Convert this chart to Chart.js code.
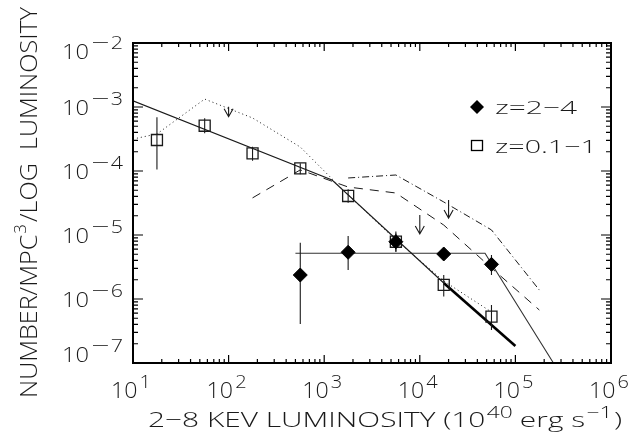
<!DOCTYPE html>
<html><head><meta charset="utf-8">
<script src="https://cdn.jsdelivr.net/npm/chart.js@4/dist/chart.umd.min.js"></script>
<style>html,body{margin:0;padding:0;background:#fff}#wrap{width:635px;height:435px;position:relative}canvas{display:block}</style>
</head><body><div id="wrap"><canvas id="c" width="635" height="435"></canvas></div>
<script>
// ---- data ----
const lum = [17.8, 56.2, 178, 562, 1780, 5620, 17800, 56200];            // 2-8 keV luminosity (1e40 erg/s)
const lowzY  = [3.05e-4, 5.1e-4, 1.89e-4, 1.1e-4, 4.07e-5, 7.85e-6, 1.66e-6, 5.3e-7];
const lowzHi = [6.9e-4, 6.65e-4, 2.4e-4, 1.32e-4, 5.18e-5, 1.13e-5, 2.37e-6, 8.05e-7];
const lowzLo = [1.06e-4, 3.89e-4, 1.45e-4, 8.87e-5, 3.2e-5, 5.48e-6, 1.09e-6, 3.28e-7];
const hizX  = [562, 1780, 5620, 17800, 56200];
const hizY  = [2.37e-6, 5.37e-6, 7.85e-6, 5.05e-6, 3.48e-6];
const hizHi = [7.59e-6, 9.64e-6, 1.06e-5, null, 4.87e-6];
const hizLo = [4.07e-7, 2.84e-6, 5.48e-6, null, 2.37e-6];
const fitLowX = [10, 1208, 17800];
const fitLowY = [1.25e-3, 7.24e-5, 1.78e-6];
const fitThickX = [17800, 1e5];
const fitThickY = [1.78e-6, 1.85e-7];
const fitHizX = [500, 48100, 2.5e5];
const fitHizY = [5.18e-6, 5.18e-6, 1.0e-7];
const dotX = [10, 17.8, 56.2, 178, 562, 1780, 5620, 17800, 56200];
const dotY = [3.16e-4, 3.79e-4, 1.33e-3, 6.74e-4, 2.37e-4, 4.22e-5, 8.35e-6, 1.91e-6, 6.26e-7];
const dashX = [178, 562, 1780, 5620, 17800, 56200, 178000];
const dashY = [3.8e-5, 1.04e-4, 5.62e-5, 4.53e-5, 1.43e-5, 3.05e-6, 6.73e-7];
const ddX = [1780, 5620, 17800, 56200, 178000];
const ddY = [7.78e-5, 8.66e-5, 3.28e-5, 1.2e-5, 1.38e-6];
const arrowX = [100, 1e4, 2e4];
const arrowFrom = [1.01e-3, 2.05e-5, 3.52e-5];
const arrowTo = [7.05e-4, 1.04e-5, 1.84e-5];
const xTickExp = [1, 2, 3, 4, 5, 6];
const yTickExp = [-2, -3, -4, -5, -6, -7];
const legendLabels = ['z=2\u22124', 'z=0.1\u22121'];

// ---- helpers ----
const FAM = "'Open Sans', 'Liberation Sans', sans-serif";
const INK = '#1a1a1a';
function fnt(sz){ return `300 ${sz}px ${FAM}`; }
function pts(xs, ys){ return xs.map((x,i)=>({x:x, y:ys[i]})); }
function bars(xs, lo, hi){
  const out=[];
  xs.forEach((x,i)=>{ if(lo[i]==null) return; out.push({x:x,y:lo[i]},{x:x,y:hi[i]},{x:x,y:null}); });
  return out;
}
function minusStr(n){ return n<0 ? '\u2212'+Math.abs(n) : String(n); }
function segW(ctx,s){ ctx.font=fnt(s.sz); return ctx.measureText(s.t).width*(s.sx||1)+(s.gap||0); }
// draw rich text; if fitW given, stretch horizontally to that width
function drawRich(ctx, segs, x, yc, align, baseSz, fitW){
  let w=0; segs.forEach(s=>w+=segW(ctx,s));
  const k = fitW ? fitW/w : 1;
  const W = w*k;
  const x0 = align==='right'? x-W : align==='center'? x-W/2 : x;
  const by = yc + 0.36*baseSz;
  ctx.save();
  ctx.textBaseline='alphabetic'; ctx.textAlign='left'; ctx.fillStyle=INK;
  ctx.translate(x0,0); ctx.scale(k,1);
  let cx=0;
  for(const s of segs){
    ctx.font=fnt(s.sz);
    const mw = ctx.measureText(s.t).width*(s.sx||1);
    ctx.save(); ctx.translate(cx, by+(s.dy||0)); ctx.scale(s.sx||1,1); ctx.fillText(s.t,0,0); ctx.restore();
    cx += mw + (s.gap||0);
  }
  ctx.restore();
  return W;
}
function supSegs(base, exp, bsz, ssz, dy){
  const e = String(exp);
  const segs=[{t:base, sz:bsz, gap:2}];
  if(e.startsWith('\u2212')||e.startsWith('-')){
    segs.push({t:'\u2212', sz:ssz, dy:dy, sx:1.5, gap:1});
    segs.push({t:e.slice(1), sz:ssz, dy:dy});
  } else segs.push({t:e, sz:ssz, dy:dy});
  return segs;
}

const decor = {
  id:'decor',
  afterDatasetsDraw(chart){
    const ctx=chart.ctx, xs=chart.scales.x, ys=chart.scales.y, a=chart.chartArea;
    ctx.save();
    // arrows (upper limits)
    ctx.strokeStyle=INK; ctx.lineWidth=1.1;
    arrowX.forEach((v,i)=>{
      const px=xs.getPixelForValue(v), p0=ys.getPixelForValue(arrowFrom[i]), p1=ys.getPixelForValue(arrowTo[i]);
      ctx.beginPath(); ctx.moveTo(px,p0); ctx.lineTo(px,p1);
      ctx.moveTo(px-4.5,p1-8); ctx.lineTo(px,p1); ctx.lineTo(px+4.5,p1-8); ctx.stroke();
    });
    // frame
    ctx.strokeStyle='#000'; ctx.lineWidth=2;
    ctx.strokeRect(a.left,a.top,a.right-a.left,a.bottom-a.top);
    // ticks
    ctx.lineWidth=1.2;
    ctx.beginPath();
    for(let d=1; d<=6; d++){
      for(let m=1; m<=9; m++){
        if(d===6 && m>1) break;
        const px=xs.getPixelForValue(m*Math.pow(10,d));
        const L = m===1?8:4;
        ctx.moveTo(px,a.bottom); ctx.lineTo(px,a.bottom-L);
        ctx.moveTo(px,a.top); ctx.lineTo(px,a.top+L);
      }
    }
    for(let d=-7; d<=-2; d++){
      for(let m=1; m<=9; m++){
        if(d===-2 && m>1) break;
        const py=ys.getPixelForValue(m*Math.pow(10,d));
        const L = m===1?10:5;
        ctx.moveTo(a.left,py); ctx.lineTo(a.left+L,py);
        ctx.moveTo(a.right,py); ctx.lineTo(a.right-L,py);
      }
    }
    ctx.stroke();
    // x tick labels
    xTickExp.forEach(e=>{
      const px=xs.getPixelForValue(Math.pow(10,e));
      drawRich(ctx, supSegs('10', e, 22, 19, -10), px-2, 390, 'center', 22, 40);
    });
    // y tick labels
    yTickExp.forEach((e,i)=>{
      let py=ys.getPixelForValue(Math.pow(10,e));
      if(i===0) py+=8; if(i===yTickExp.length-1) py-=9;
      drawRich(ctx, supSegs('10', minusStr(e), 21, 19, -10), 123, py, 'right', 21, 61);
    });
    // x title
    drawRich(ctx, [
      {t:'2\u22128 KEV LUMINOSITY (10', sz:21, gap:1},
      {t:'40', sz:16, dy:-9, gap:5},
      {t:'erg s', sz:21, gap:1},
      {t:'\u22121', sz:16, dy:-9, gap:1},
      {t:')', sz:21}
    ], 148, 419, 'left', 21, 474);
    // y title (rotated)
    ctx.save();
    ctx.translate(28, 398); ctx.rotate(-Math.PI/2);
    drawRich(ctx, [
      {t:'NUMBER/MPC', sz:24, gap:1},
      {t:'3', sz:16, dy:-11, gap:2},
      {t:'/LOG  LUMINOSITY', sz:24}
    ], 0, 0, 'left', 24, 391);
    ctx.restore();
    // legend
    ctx.fillStyle='#000'; ctx.strokeStyle='#000';
    ctx.beginPath(); ctx.moveTo(470,107); ctx.lineTo(477,100); ctx.lineTo(484,107); ctx.lineTo(477,114); ctx.closePath(); ctx.fill();
    ctx.lineWidth=1.3; ctx.strokeRect(471.5,140.5,11,10);
    drawRich(ctx, [{t:legendLabels[0], sz:19}], 495, 107, 'left', 19, 82);
    drawRich(ctx, [{t:legendLabels[1], sz:19}], 495, 146, 'left', 19, 102);
    ctx.restore();
  }
};

const lineDS = (data, opts) => Object.assign({data, showLine:true, pointRadius:0, pointHoverRadius:0, borderColor:INK, borderWidth:1, fill:false, tension:0, spanGaps:false}, opts);

new Chart(document.getElementById('c'), {
  type:'scatter',
  data:{ datasets:[
    {label:'z=2-4', data:pts(hizX,hizY), pointStyle:'rectRot', pointRadius:7, backgroundColor:'#000', borderColor:'#000', borderWidth:1, showLine:false},
    {label:'z=0.1-1', data:pts(lum,lowzY), pointStyle:'rect', pointRadius:7.8, backgroundColor:'rgba(0,0,0,0)', borderColor:INK, borderWidth:1.3, showLine:false},
    lineDS(bars(hizX,hizLo,hizHi), {borderWidth:1.1}),
    lineDS(bars(lum,lowzLo,lowzHi), {borderWidth:1.1}),
    lineDS(pts(fitLowX,fitLowY), {borderWidth:1.1}),
    lineDS(pts(fitThickX,fitThickY), {borderWidth:2.6, borderColor:'#000'}),
    lineDS(pts(fitHizX,fitHizY), {borderWidth:1.1, borderColor:'#333'}),
    lineDS(pts(dotX,dotY), {borderDash:[1,3]}),
    lineDS(pts(dashX,dashY), {borderDash:[9,7]}),
    lineDS(pts(ddX,ddY), {borderDash:[7,3,1,3]})
  ]},
  options:{
    responsive:false, animation:false, devicePixelRatio:1,
    layout:{padding:{left:133, right:24, top:43, bottom:72}},
    plugins:{legend:{display:false}, tooltip:{enabled:false}},
    scales:{
      x:{type:'logarithmic', min:10, max:1e6, display:false},
      y:{type:'logarithmic', min:1e-7, max:1e-2, display:false}
    }
  },
  plugins:[decor]
});
</script></body></html>
